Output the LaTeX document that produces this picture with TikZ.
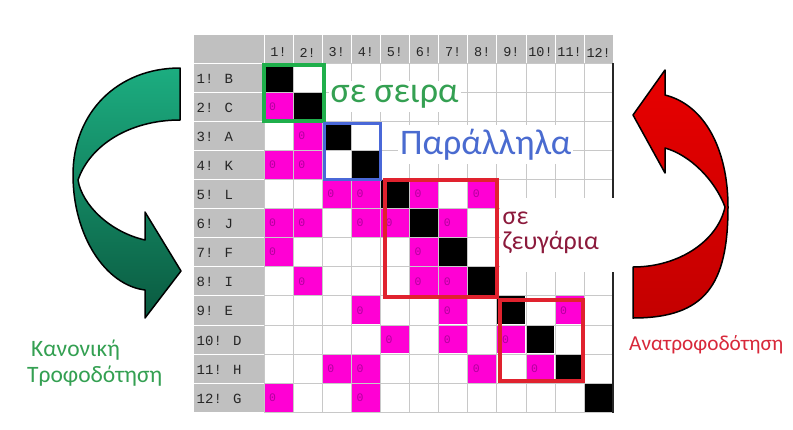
\documentclass[tikz,border=0pt]{standalone}
\usepackage{fontspec}
\setmainfont{Carlito}
\newfontfamily\monof{Liberation Mono}
\definecolor{hdrgray}{HTML}{C0C0C0}
\definecolor{gridc}{HTML}{C8C8C8}
\definecolor{magcol}{HTML}{FF00D4}
\definecolor{zerocol}{HTML}{B0009C}
\definecolor{grpgreen}{HTML}{1FAF4B}
\definecolor{txtgreen}{HTML}{34A052}
\definecolor{grpblue}{HTML}{4A68D8}
\definecolor{txtblue}{HTML}{4A6BD0}
\definecolor{grpred}{HTML}{E0222E}
\definecolor{txtmaroon}{HTML}{8C1A3C}
\definecolor{txtred}{HTML}{D8283A}
\definecolor{arrgreenA}{HTML}{1CAD80}
\definecolor{arrgreenB}{HTML}{0A5A40}
\definecolor{arrredA}{HTML}{E80000}
\definecolor{arrredB}{HTML}{C40000}
\begin{document}
\begin{tikzpicture}[x=1pt,y=-1pt,
  hdr/.style={font=\monof\fontsize{13.5}{14}\selectfont, text=black!85, inner sep=0},
  rowlab/.style={font=\monof\fontsize{14}{15}\selectfont, text=black!85, inner sep=0, anchor=west},
  zero/.style={font=\monof\fontsize{11.5}{12}\selectfont, text=zerocol, inner sep=0, anchor=west},
  grpbox/.style={line width=4pt},
  bigtxt/.style={font=\fontsize{36}{40}\selectfont, fill=white, inner xsep=2pt, inner ysep=4pt, anchor=base west},
  midtxt/.style={font=\fontsize{26}{28}\selectfont, inner sep=0, anchor=base west},
  sidetxt/.style={font=\fontsize{23.5}{26}\selectfont, inner sep=0, anchor=base west},
  ribbon/.style={draw=black, line width=1.5pt, line join=round}
]
\useasboundingbox (0,0) rectangle (793,429);
\fill[white] (0,0) rectangle (793,429);
\def\cs{29.1}
% matrix background
\fill[hdrgray] (194,35) rectangle (613,63);
\fill[hdrgray] (194,63) rectangle (264,413);
\foreach \i in {0,...,12} {
  \draw[gridc, line width=0.8pt] ({264+\i*\cs},63) -- ({264+\i*\cs},413);
  \draw[gridc, line width=0.8pt] (264,{63+\i*\cs}) -- (613,{63+\i*\cs});
  \draw[white, line width=0.8pt] ({264+\i*\cs},35) -- ({264+\i*\cs},63);
  \draw[white, line width=0.8pt] (194,{63+\i*\cs}) -- (264,{63+\i*\cs});
}
% diagonal black cells
\foreach \i in {1,...,12}
  \fill[black] ({264+(\i-1)*\cs+0.6},{63+(\i-1)*\cs+0.6}) rectangle ({264+\i*\cs-0.6},{63+\i*\cs-0.6});
% magenta cells
\foreach \r/\c in {2/1,3/2,4/1,4/2,5/3,5/4,5/6,5/8,6/1,6/2,6/4,6/5,6/7,7/1,7/6,8/2,8/6,8/7,9/4,9/7,9/11,10/5,10/7,10/9,11/3,11/4,11/8,11/10,12/1,12/4} {
  \fill[magcol] ({264+(\c-1)*\cs+0.6},{63+(\r-1)*\cs+0.6}) rectangle ({264+\c*\cs-0.6},{63+\r*\cs-0.6});
  \node[zero] (z\r-\c) at ({264+(\c-1)*\cs+5},{63+(\r-0.5)*\cs}) {0};
}
% header and row labels
\begin{scope}
  \clip (194,35) rectangle (612.5,413);
  \foreach \c in {1,...,12}
    \node[hdr] (h\c) at ({264+(\c-0.5)*\cs},52.5) {\c!};
\end{scope}
\foreach \r/\l in {1/B,2/C,3/A,4/K,5/L,6/J,7/F,8/I,9/E,10/D,11/H,12/G}
  \node[rowlab] (r\r) at (196.5,{63+(\r-0.5)*\cs+1}) {\r! \l};
\draw[black!85, line width=1.2pt] (613,63) -- (613,413);
% labels with white backgrounds
\node[bigtxt, text=txtgreen] (seira) at (328.5,102) {σε σειρα};
\node[bigtxt, text=txtblue] (parall) at (398,154) {Παράλληλα};
\fill[white] (500,198) rectangle (626,272);
\node[midtxt, text=txtmaroon] (se) at (502.5,224) {σε};
\node[midtxt, text=txtmaroon] (zeug) at (502.5,249.5) {ζευγάρια};
% group boxes
\draw[grpbox, grpgreen] (264,65) rectangle (323.5,121);
\draw[grpbox, grpblue, line width=3.5pt] (324.5,123.5) rectangle (380.5,179.5);
\draw[grpbox, grpred] (385,180) rectangle (497,297);
\draw[grpbox, grpred] (499.5,300) rectangle (582.5,381);
% left green curved arrow
\draw[ribbon, top color=arrgreenA, bottom color=arrgreenB]
  (180,68) .. controls (118,68) and (73,112) .. (73,175)
  .. controls (73,235) and (105,285) .. (145,290)
  -- (145,318) -- (181,271) -- (145,212) -- (145,240)
  .. controls (110,232) and (82,205) .. (78,180)
  .. controls (90,145) and (130,120) .. (180,120) -- cycle;
% right red curved arrow
\draw[ribbon, top color=arrredA, bottom color=arrredB]
  (633,115) -- (665,70) -- (665,95)
  .. controls (705,105) and (728,150) .. (728,207)
  .. controls (728,285) and (705,318) .. (633,318)
  -- (633,267)
  .. controls (680,267) and (718,240) .. (725,207)
  .. controls (715,180) and (690,155) .. (665,148)
  -- (665,173) -- cycle;
% side labels
\node[sidetxt, text=txtgreen] (kan1) at (31,356) {Κανονική};
\node[sidetxt, text=txtgreen] (kan2) at (27,382) {Τροφοδότηση};
\node[sidetxt, text=txtred, font=\fontsize{21.3}{24}\selectfont] (anatr) at (629,350) {Ανατροφοδότηση};
\end{tikzpicture}
\end{document}
